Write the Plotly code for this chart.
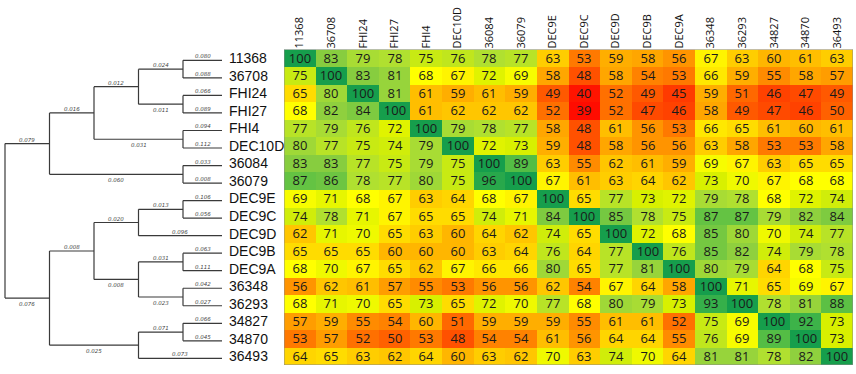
import plotly.graph_objects as go

names = ["11368", "36708", "FHI24", "FHI27", "FHI4", "DEC10D", "36084", "36079",
         "DEC9E", "DEC9C", "DEC9D", "DEC9B", "DEC9A", "36348", "36293", "34827",
         "34870", "36493"]

values = [
    [100, 83, 79, 78, 75, 76, 78, 77, 63, 53, 59, 58, 56, 67, 63, 60, 61, 63],
    [75, 100, 83, 81, 68, 67, 72, 69, 58, 48, 58, 54, 53, 66, 59, 55, 58, 57],
    [65, 80, 100, 81, 61, 59, 61, 59, 49, 40, 52, 49, 45, 59, 51, 46, 47, 49],
    [68, 82, 84, 100, 61, 62, 62, 62, 52, 39, 52, 47, 46, 58, 49, 47, 46, 50],
    [77, 79, 76, 72, 100, 79, 78, 77, 58, 48, 61, 56, 53, 66, 65, 61, 60, 61],
    [80, 77, 75, 74, 79, 100, 72, 73, 59, 48, 58, 56, 56, 63, 58, 53, 53, 58],
    [83, 83, 77, 75, 79, 75, 100, 89, 63, 55, 62, 61, 59, 69, 67, 63, 65, 65],
    [87, 86, 78, 77, 80, 75, 96, 100, 67, 61, 63, 64, 62, 73, 70, 67, 68, 68],
    [69, 71, 68, 67, 63, 64, 68, 67, 100, 65, 77, 73, 72, 79, 78, 68, 72, 74],
    [74, 78, 71, 67, 65, 65, 74, 71, 84, 100, 85, 78, 75, 87, 87, 79, 82, 84],
    [62, 71, 70, 65, 63, 60, 64, 62, 74, 65, 100, 72, 68, 85, 80, 70, 74, 77],
    [65, 65, 65, 60, 60, 60, 63, 64, 76, 64, 77, 100, 76, 85, 82, 74, 79, 78],
    [68, 70, 67, 65, 62, 67, 66, 66, 80, 65, 77, 81, 100, 80, 79, 64, 68, 75],
    [56, 62, 61, 57, 55, 53, 56, 56, 62, 54, 67, 64, 58, 100, 71, 65, 69, 67],
    [68, 71, 70, 65, 73, 65, 72, 70, 77, 68, 80, 79, 73, 93, 100, 78, 81, 88],
    [57, 59, 55, 54, 60, 51, 59, 59, 59, 55, 61, 61, 52, 75, 69, 100, 92, 73],
    [53, 57, 52, 50, 53, 48, 54, 54, 61, 56, 64, 64, 55, 76, 69, 89, 100, 73],
    [64, 65, 63, 62, 64, 60, 63, 62, 70, 63, 74, 70, 64, 81, 81, 78, 82, 100],
]

# Dendrogram: internal node = [branch_length, [children]], leaf = [name, branch_length]
tree = [0.0, [
    [0.079, [
        [0.016, [
            [0.012, [
                [0.024, [["11368", 0.080], ["36708", 0.088]]],
                [0.011, [["FHI24", 0.066], ["FHI27", 0.089]]],
            ]],
            [0.031, [["FHI4", 0.094], ["DEC10D", 0.112]]],
        ]],
        [0.060, [["36084", 0.033], ["36079", 0.008]]],
    ]],
    [0.076, [
        [0.008, [
            [0.020, [
                [0.013, [["DEC9E", 0.106], ["DEC9C", 0.056]]],
                ["DEC9D", 0.096],
            ]],
            [0.008, [
                [0.031, [["DEC9B", 0.063], ["DEC9A", 0.111]]],
                [0.023, [["36348", 0.042], ["36293", 0.027]]],
            ]],
        ]],
        [0.025, [
            [0.071, [["34827", 0.066], ["34870", 0.045]]],
            ["36493", 0.073],
        ]],
    ]],
]]

W, H = 856, 374
hx0, hx1 = 284, 853
hy0, hy1 = 49.5, 365

colorscale = [
    [0.000, "#ff0c00"],
    [0.115, "#ff4200"],
    [0.213, "#ff7000"],
    [0.311, "#ffa600"],
    [0.377, "#ffc600"],
    [0.426, "#ffdc00"],
    [0.475, "#ffff00"],
    [0.557, "#d8f000"],
    [0.639, "#b0e030"],
    [0.705, "#8fd03e"],
    [0.803, "#5cc044"],
    [0.885, "#36b04a"],
    [1.000, "#169e4c"],
]

fig = go.Figure()
fig.add_trace(go.Heatmap(
    z=values, x=list(range(len(names))), y=list(range(len(names))),
    colorscale=colorscale, zmin=39, zmax=100, showscale=False,
    texttemplate="%{z}", textfont=dict(family="Open Sans", size=13, color="#1a1a1a"),
    hoverinfo="skip", xgap=0, ygap=0,
))

# dendrogram geometry
OFF = 0.12
def is_leaf(n):
    return isinstance(n[0], str)

def xpos(h):
    return 222 if h == 0 else 183 - 44.5 * (h - 1)

segx, segy = [], []
labels = []

def walk(n):
    if is_leaf(n):
        return names.index(n[0]) + OFF, 0
    kids = [walk(c) for c in n[1]]
    ys = [k[0] for k in kids]
    h = max(k[1] for k in kids) + 1
    xn = xpos(h)
    segx.extend([xn, xn, None]); segy.extend([min(ys), max(ys), None])
    for i, (c, (cy, ch)) in enumerate(zip(n[1], kids)):
        xc = xpos(ch)
        segx.extend([xn, xc, None]); segy.extend([cy, cy, None])
        blen = c[1] if is_leaf(c) else c[0]
        above = is_leaf(c) or i == 0
        labels.append(((xn + xc) / 2, cy, blen, above))
    return (ys[0] + ys[-1]) / 2, h

walk(tree)

fig.add_trace(go.Scatter(
    x=segx, y=segy, xaxis="x2", yaxis="y", mode="lines",
    line=dict(color="#3a3a3a", width=1.2), hoverinfo="skip", showlegend=False,
))

annotations = []
for lx, ly, bl, above in labels:
    annotations.append(dict(
        x=lx, y=ly, xref="x2", yref="y", text=f"{bl:.3f}", showarrow=False,
        font=dict(family="DejaVu Sans", size=5.5, color="#444", style="italic"),
        yshift=4 if above else -6, xanchor="center", yanchor="middle",
    ))
for i, nm in enumerate(names):
    annotations.append(dict(
        x=228 / W, y=i, xref="paper", yref="y", text=nm, showarrow=False,
        font=dict(family="Liberation Sans", size=14, color="#111"),
        xanchor="left", yanchor="middle", borderpad=0,
    ))

fig.update_layout(
    width=W, height=H, margin=dict(l=0, r=0, t=0, b=0),
    paper_bgcolor="white", plot_bgcolor="rgba(0,0,0,0)",
    xaxis=dict(domain=[hx0 / W, hx1 / W], range=[-0.5, 17.5], side="top",
               tickvals=list(range(len(names))), ticktext=names, tickangle=-90,
               tickfont=dict(family="Open Sans", size=11, color="#111"),
               showgrid=False, zeroline=False, ticks="", showline=False),
    xaxis2=dict(domain=[0, 1], range=[0, W], visible=False, anchor="y"),
    yaxis=dict(domain=[(H - hy1) / H, (H - hy0) / H], range=[17.5, -0.5],
               showticklabels=False, showgrid=False, zeroline=False, ticks=""),
    annotations=annotations,
    shapes=[dict(type="rect", xref="x", yref="y", x0=-0.5, x1=17.5, y0=-0.5, y1=17.5,
                 line=dict(color="#8a8a8a", width=1))],
)

fig.write_html("out.html", config={"displayModeBar": False},
               post_script="document.body.style.margin='0';")
